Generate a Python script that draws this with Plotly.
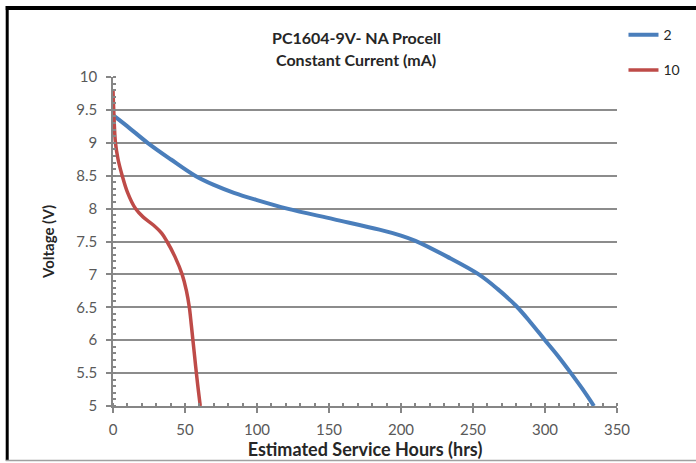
import plotly.graph_objects as go

# Data
blue_hours = [0, 10, 24, 40, 57, 70, 84, 100, 121, 153, 185, 200, 210, 232, 254, 267, 280, 290, 300, 309, 318, 326, 334]
blue_volts = [9.42, 9.25, 9.0, 8.75, 8.5, 8.36, 8.24, 8.13, 8.0, 7.84, 7.68, 7.59, 7.51, 7.27, 7.0, 6.78, 6.52, 6.27, 6.0, 5.76, 5.5, 5.26, 5.0]

red_hours = [0, 0.5, 1.7, 3.5, 6.4, 10, 15.6, 21, 28, 34, 37.5, 43, 48, 51, 53, 54.3, 55.5, 56.7, 57.9, 59.2, 60.6]
red_volts = [9.8, 9.5, 9.0, 8.75, 8.5, 8.25, 8.0, 7.87, 7.75, 7.62, 7.5, 7.27, 7.0, 6.75, 6.5, 6.25, 6.0, 5.75, 5.5, 5.25, 5.0]

series_names = ["2", "10"]
title_lines = ["PC1604-9V- NA Procell", "Constant Current (mA)"]
x_title = "Estimated Service Hours (hrs)"
y_title = "Voltage (V)"

W, H = 696, 463
L, R, T, B = 112.5, 78.5, 77, 56.5
pw, ph = W - L - R, H - T - B

def px(x):
    return (x - L) / pw

def py(y):
    return (H - B - y) / ph

FONT = "Lato, 'Open Sans', sans-serif"

fig = go.Figure()
fig.add_trace(go.Scatter(x=blue_hours, y=blue_volts, mode="lines", name=series_names[0],
                         line=dict(color="#4A7EBB", width=4, shape="spline", smoothing=1),
                         legendgroup="a"))
fig.add_trace(go.Scatter(x=red_hours, y=red_volts, mode="lines", name=series_names[1],
                         line=dict(color="#BE4B48", width=3.5, shape="spline", smoothing=1),
                         legendgroup="b"))

fig.update_layout(
    width=W, height=H,
    margin=dict(l=L, r=R, t=T, b=B, autoexpand=False),
    paper_bgcolor="white", plot_bgcolor="white",
    font=dict(family=FONT, size=15, color="#595959"),
    showlegend=True,
    legend=dict(x=px(624), y=py(19), xanchor="left", yanchor="top",
                font=dict(family=FONT, size=14, color="#262626"),
                tracegroupgap=14, itemwidth=30, bgcolor="rgba(0,0,0,0)"),
    xaxis=dict(range=[0, 350], tick0=0, dtick=50, showgrid=False,
               showline=True, linecolor="#868686", linewidth=1.5,
               ticks="outside", ticklen=5, tickcolor="#868686", tickwidth=1.5,
               minor=dict(dtick=10, ticks="inside", ticklen=3, tickcolor="#868686", showgrid=False),
               zeroline=False, ticklabelstandoff=4,
               tickfont=dict(family=FONT, size=15, color="#595959"),
               title=dict(text="<b>" + x_title + "</b>", standoff=4,
                          font=dict(family=FONT, size=18, color="#262626"))),
    yaxis=dict(range=[5, 10], tick0=5, dtick=0.5, showgrid=True,
               gridcolor="#8C8C8C", gridwidth=1.5,
               showline=True, linecolor="#868686", linewidth=1.5,
               ticks="outside", ticklen=5, tickcolor="#868686", tickwidth=1.5,
               minor=dict(dtick=0.1, ticks="inside", ticklen=3, tickcolor="#868686", showgrid=False),
               zeroline=False, ticklabelstandoff=6,
               tickfont=dict(family=FONT, size=15, color="#595959"),
               title=dict(text="<b>" + y_title + "</b>", standoff=18,
                          font=dict(family=FONT, size=15, color="#262626"))),
)

# two-line chart title
for i, (txt, ypx) in enumerate(zip(title_lines, [37, 59])):
    fig.add_annotation(text="<b>" + txt + "</b>", xref="paper", yref="paper",
                       x=px(356), y=py(ypx), xanchor="center", yanchor="middle",
                       showarrow=False, font=dict(family=FONT, size=16, color="#262626"))

# outer frame of the original image
fig.add_shape(type="line", xref="paper", yref="paper", x0=px(5), x1=px(700), y0=py(8), y1=py(8),
              line=dict(color="black", width=4))
fig.add_shape(type="line", xref="paper", yref="paper", x0=px(6.5), x1=px(6.5), y0=py(6), y1=py(461),
              line=dict(color="black", width=3))
fig.add_shape(type="line", xref="paper", yref="paper", x0=px(5), x1=px(700), y0=py(461), y1=py(461),
              line=dict(color="#A0A0A0", width=1.5))

fig.write_html("out.html", config={"displayModeBar": False},
               post_script="document.body.style.margin='0px';document.body.style.overflow='hidden';")
